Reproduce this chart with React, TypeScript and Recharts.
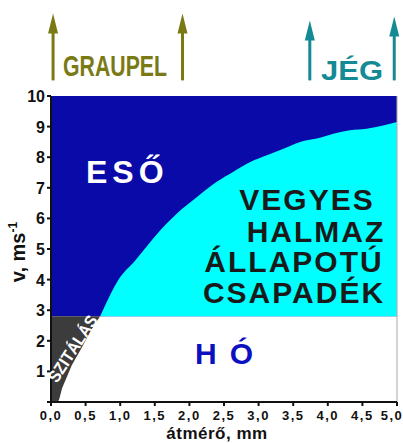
import React from "react";
import { ComposedChart, Area, XAxis, YAxis, ReferenceLine } from "recharts";

// drizzle (SZITÁLÁS): lower edge of the dark region, by drop diameter
const drizzleD = [0, 0.1, 0.12, 0.16, 0.3, 0.45, 0.58, 0.71];
const drizzleV = [0, 0, 0.1, 0.45, 1.2, 1.8, 2.35, 2.8];

// mixed phase (VEGYES HALMAZ ÁLLAPOTÚ CSAPADÉK): upper edge of the cyan region
const mixedD = [0.71, 0.76, 0.97, 1.22, 1.38, 1.58, 1.82, 2.11, 2.39, 2.63, 2.88, 3.12, 3.36, 3.6, 3.84, 4.08, 4.32, 4.56, 4.8, 5.0];
const mixedV = [2.8, 3.05, 3.98, 4.63, 5.07, 5.61, 6.16, 6.7, 7.19, 7.52, 7.84, 8.06, 8.28, 8.5, 8.61, 8.77, 8.88, 8.93, 9.04, 9.15];

// snow / rain limits
const snowTop = 2.8;
const vMax = 10;

const xTicks = [0, 0.5, 1, 1.5, 2, 2.5, 3, 3.5, 4, 4.5, 5];
const yTicks = [0, 1, 2, 3, 4, 5, 6, 7, 8, 9, 10];

// arrows above the chart: diameter, tip height
const graupelArrowD = [0.03, 1.9];
const graupelArrowTip = [12.7, 12.7];
const iceArrowD = [3.74, 4.96];
const iceArrowTip = [12.47, 12.6];
const arrowBase = 10.51;

const allD = Array.from(new Set([...drizzleD, ...mixedD])).sort((a, b) => a - b);
const rows = allD.map((d) => {
  const gi = drizzleD.indexOf(d);
  const mi = mixedD.indexOf(d);
  return {
    d,
    rain: [snowTop, vMax],
    drizzle: gi >= 0 ? [drizzleV[gi], snowTop] : null,
    mixed: mi >= 0 ? [snowTop, mixedV[mi]] : null,
  };
});

const FONT = "'Liberation Sans', Arial, sans-serif";
const NAVY = "#0a0aa8";
const CYAN = "#00ffff";
const DARK = "#3c3c3c";
const OLIVE = "#7a7a14";
const TEAL = "#148a94";

const arrowShape = (color: string) => (p: any) => {
  const { x1, y1, y2 } = p;
  const top = Math.min(y1, y2);
  const bottom = Math.max(y1, y2);
  return (
    <g>
      <line x1={x1} x2={x1} y1={bottom} y2={top + 18} stroke={color} strokeWidth={3} />
      <polygon points={`${x1},${top} ${x1 - 5},${top + 20} ${x1 + 5},${top + 20}`} fill={color} />
    </g>
  );
};

const XTick = (p: any) => (
  <text x={Math.min(p.x, 392)} y={p.y + 12} textAnchor="middle" fontFamily={FONT} fontSize={13} fontWeight="bold" letterSpacing={1.5} fill="#111">
    {p.payload.value.toFixed(1).replace(".", ",")}
  </text>
);

const YTick = (p: any) =>
  p.payload.value === 0 ? (
    <g />
  ) : (
    <text x={p.x} y={p.y + 6} textAnchor="end" fontFamily={FONT} fontSize={16} fontWeight="bold" fill="#111">
      {p.payload.value}
    </text>
  );

export default function App() {
  return (
    <div style={{ position: "absolute", left: 0, top: 0, width: 403, height: 443, background: "#fff" }}>
      <ComposedChart width={403} height={443} data={rows} margin={{ top: 96, right: 6, bottom: 0, left: 0 }}>
        <XAxis
          dataKey="d"
          type="number"
          domain={[0, 5]}
          ticks={xTicks}
          height={41}
          stroke="#111"
          strokeWidth={2}
          tickSize={4}
          tick={XTick}
        />
        <YAxis
          type="number"
          domain={[0, vMax]}
          ticks={yTicks}
          width={51}
          stroke="#111"
          strokeWidth={2}
          tickSize={4}
          tick={YTick}
          allowDataOverflow
        />
        <Area dataKey="rain" type="linear" fill={NAVY} fillOpacity={1} stroke="none" isAnimationActive={false} />
        <Area dataKey="mixed" type="monotone" fill={CYAN} fillOpacity={1} stroke="none" isAnimationActive={false} />
        <Area dataKey="drizzle" type="linear" fill={DARK} fillOpacity={1} stroke="none" isAnimationActive={false} />
        <ReferenceLine x={5} stroke="#aaa" strokeWidth={1} />
        {graupelArrowD.map((d, i) => (
          <ReferenceLine
            key={"g" + i}
            segment={[{ x: d, y: arrowBase }, { x: d, y: graupelArrowTip[i] }]}
            ifOverflow="visible"
            shape={arrowShape(OLIVE)}
          />
        ))}
        {iceArrowD.map((d, i) => (
          <ReferenceLine
            key={"j" + i}
            segment={[{ x: d, y: arrowBase }, { x: d, y: iceArrowTip[i] }]}
            ifOverflow="visible"
            shape={arrowShape(TEAL)}
          />
        ))}
      </ComposedChart>
      <svg width={403} height={443} style={{ position: "absolute", left: 0, top: 0, pointerEvents: "none" }}>
        <text x={63} y={76} fontFamily={FONT} fontSize={30} fontWeight="bold" fill={OLIVE} textLength={104} lengthAdjust="spacingAndGlyphs">
          GRAUPEL
        </text>
        <text x={321} y={80} fontFamily={FONT} fontSize={27} fontWeight="bold" fill={TEAL} textLength={62} lengthAdjust="spacingAndGlyphs">
          JÉG
        </text>
        <text x={86} y={183} fontFamily={FONT} fontSize={32} fontWeight="bold" fill="#fff" letterSpacing={5}>
          ESŐ
        </text>
        <g fontFamily={FONT} fontSize={30} fontWeight="bold" fill="#1a1a1a" textAnchor="middle" letterSpacing={2}>
          <text x={307} y={210}>VEGYES</text>
          <text x={316} y={242}>HALMAZ</text>
          <text x={294} y={272}>ÁLLAPOTÚ</text>
          <text x={294} y={303}>CSAPADÉK</text>
        </g>
        <text x={195} y={364} fontFamily={FONT} fontSize={30} fontWeight="bold" fill="#0c10c0" letterSpacing={13}>
          HÓ
        </text>
        <text
          x={73}
          y={349}
          transform="rotate(-57 73 349)"
          textAnchor="middle"
          dominantBaseline="central"
          fontFamily={FONT}
          fontSize={17}
          fontWeight="bold"
          fill="#fff"
          textLength={76}
          lengthAdjust="spacingAndGlyphs"
        >
          SZITÁLÁS
        </text>
        <text x={25} y={252} transform="rotate(-90 25 252)" textAnchor="middle" fontFamily={FONT} fontSize={20} fontWeight="bold" fill="#111">
          v, ms<tspan dy={-8} fontSize={12}>-1</tspan>
        </text>
        <text x={217} y={439} textAnchor="middle" fontFamily={FONT} fontSize={17} fontWeight="bold" fill="#111" letterSpacing={0.5}>
          átmérő, mm
        </text>
      </svg>
    </div>
  );
}
